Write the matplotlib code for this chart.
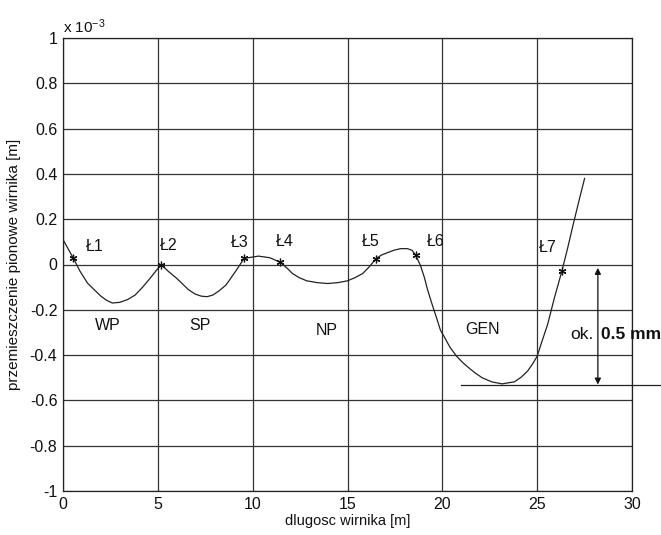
import matplotlib
matplotlib.use("Agg")
import matplotlib.pyplot as plt
from matplotlib.ticker import FixedLocator, FuncFormatter

plt.rcParams['font.family'] = ['Liberation Sans', 'DejaVu Sans']
plt.rcParams['axes.unicode_minus'] = False
plt.rcParams['mathtext.default'] = 'regular'

# curve: rotor length [m] vs vertical displacement [x 1e-3 m]
x_curve = [0.0, 0.53, 0.9, 1.3, 2.0, 2.3, 2.6, 3.0, 3.4, 3.8, 4.2, 4.6, 5.17, 5.55,
           5.98, 6.6, 6.95, 7.3, 7.6, 7.9, 8.25, 8.6, 8.85, 9.1, 9.55, 10.3, 10.9,
           11.45, 11.8, 12.1, 12.45, 12.85, 13.4, 13.95, 14.5, 15.0, 15.4, 15.8,
           16.15, 16.5, 16.8, 17.1, 17.45, 17.8, 18.15, 18.4, 18.6, 18.85, 19.06,
           19.2, 19.4, 19.75, 19.9, 20.08, 20.4, 20.75, 21.1, 21.45, 21.75, 22.1,
           22.6, 23.15, 23.8, 24.15, 24.5, 24.75, 25.0, 25.25, 25.55, 25.9, 26.3,
           26.6, 26.9, 27.2, 27.5]
y_curve = [0.11, 0.03, -0.03, -0.083, -0.14, -0.158, -0.17, -0.167, -0.155, -0.135,
           -0.10, -0.06, 0.0, -0.03, -0.06, -0.11, -0.13, -0.14, -0.142, -0.135,
           -0.115, -0.09, -0.06, -0.03, 0.027, 0.037, 0.03, 0.01, -0.015, -0.04,
           -0.058, -0.072, -0.08, -0.084, -0.08, -0.072, -0.058, -0.04, -0.01,
           0.026, 0.042, 0.052, 0.063, 0.07, 0.07, 0.063, 0.04, -0.005, -0.059,
           -0.105, -0.16, -0.25, -0.29, -0.316, -0.365, -0.405, -0.435, -0.46,
           -0.48, -0.50, -0.518, -0.527, -0.518, -0.498, -0.47, -0.44, -0.405,
           -0.34, -0.265, -0.15, -0.03, 0.07, 0.177, 0.28, 0.38]

# bearings
bearing_names = ['Ł1', 'Ł2', 'Ł3', 'Ł4', 'Ł5', 'Ł6', 'Ł7']
bearing_x = [0.53, 5.17, 9.55, 11.45, 16.5, 18.6, 26.3]
bearing_y = [0.03, 0.0, 0.027, 0.01, 0.026, 0.04, -0.03]
bearing_label_x = [1.7, 5.55, 9.33, 11.7, 16.2, 19.65, 25.55]
bearing_label_y = [0.08, 0.085, 0.095, 0.10, 0.10, 0.10, 0.077]

# sections
section_names = ['WP', 'SP', 'NP', 'GEN']
section_x = [2.37, 7.2, 13.9, 22.1]
section_y = [-0.27, -0.27, -0.29, -0.287]

# deflection annotation
min_level = -0.53
min_line_x = [21.0, 31.6]
arrow_x = 28.2
arrow_top = -0.015

x_ticks = [0, 5, 10, 15, 20, 25, 30]
y_ticks = [-1, -0.8, -0.6, -0.4, -0.2, 0, 0.2, 0.4, 0.6, 0.8, 1]

fig = plt.figure(figsize=(6.61, 5.35), dpi=100)
ax = fig.add_axes([63/661, 44/535, 569/661, 453/535])

ax.plot(x_curve, y_curve, color='#222222', lw=0.9)
ax.plot(bearing_x, bearing_y, linestyle='none', marker=(6, 2, 0), ms=5.5,
        color='#111111', mew=0.9)

for n, lx, ly in zip(bearing_names, bearing_label_x, bearing_label_y):
    ax.text(lx, ly, n, ha='center', va='center', fontsize=11.5, color='#111111')
for n, sx, sy in zip(section_names, section_x, section_y):
    ax.text(sx, sy, n, ha='center', va='center', fontsize=11.5, color='#111111')

ax.plot(min_line_x, [min_level, min_level], color='#222222', lw=0.9, clip_on=False)
ax.annotate('', xy=(arrow_x, min_level), xytext=(arrow_x, arrow_top),
            arrowprops=dict(arrowstyle='<|-|>', color='#111111', lw=0.9,
                            mutation_scale=9, shrinkA=0, shrinkB=0))
ax.text(26.75, -0.31, 'ok.', ha='left', va='center', fontsize=12.5, color='#111111')
ax.text(28.35, -0.31, '0.5 mm', ha='left', va='center', fontsize=12.5,
        fontweight='bold', color='#111111', clip_on=False)

ax.set_xlim(0, 30)
ax.set_ylim(-1, 1)
ax.xaxis.set_major_locator(FixedLocator(x_ticks))
ax.yaxis.set_major_locator(FixedLocator(y_ticks))
ax.yaxis.set_major_formatter(FuncFormatter(lambda v, p: ('%g' % round(v, 1))))
ax.tick_params(direction='in', length=0, labelsize=11.5, pad=4, colors='#111111')
ax.grid(True, color='#333333', lw=0.9)
for s in ax.spines.values():
    s.set_color('#222222')
    s.set_linewidth(0.9)

ax.set_xlabel('dlugosc wirnika [m]', fontsize=10.5, labelpad=2, color='#111111')
ax.set_ylabel('przemieszczenie pionowe wirnika [m]', fontsize=11, labelpad=6,
              color='#111111')
ax.text(0.0, 1.005, 'x 10$^{-3}$', transform=ax.transAxes, ha='left', va='bottom',
        fontsize=11, color='#111111')

fig.savefig('out.png', dpi=100)
